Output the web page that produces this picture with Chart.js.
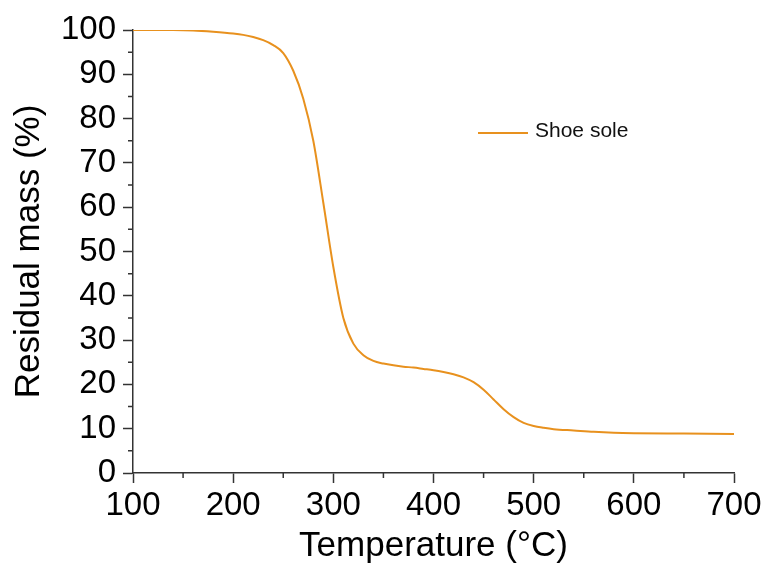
<!DOCTYPE html>
<html>
<head>
<meta charset="utf-8">
<script src="https://cdn.jsdelivr.net/npm/chart.js@4/dist/chart.umd.min.js"></script>
<style>
  html, body { margin: 0; padding: 0; background: #fff; }
  #wrap { width: 767px; height: 567px; }
</style>
</head>
<body>
<div id="wrap"><canvas id="tga-chart" width="767" height="567"></canvas></div>
<script>
// TGA curve
const temperature = [100, 120, 140, 160, 180, 200, 210, 220, 230, 240, 250, 260, 270, 280, 290, 300, 310, 320, 330, 340, 350, 360, 370, 380, 390, 400, 410, 420, 430, 440, 450, 460, 470, 480, 490, 500, 510, 520, 540, 560, 580, 600, 650, 700];
const residualMass = [100, 100, 100, 99.9, 99.6, 99.2, 98.9, 98.4, 97.7, 96.6, 94.8, 90.8, 84.5, 75.0, 61.0, 46.5, 35.0, 29.2, 26.6, 25.3, 24.7, 24.3, 24.0, 23.8, 23.5, 23.2, 22.8, 22.3, 21.6, 20.5, 18.8, 16.6, 14.4, 12.6, 11.3, 10.6, 10.2, 9.9, 9.6, 9.3, 9.1, 9.0, 8.9, 8.8];
const seriesName = 'Shoe sole';
const xTicks = [100, 200, 300, 400, 500, 600, 700];
const yTicks = [0, 10, 20, 30, 40, 50, 60, 70, 80, 90, 100];

const lineColor = '#E8911E';
const axisColor = '#333';
const fontFamily = 'Arial, "Liberation Sans", sans-serif';

// short minor ticks halfway between the major ones
const minorTicks = {
    id: 'minorTicks',
    afterDraw(chart) {
        const ctx = chart.ctx;
        const xs = chart.scales.x;
        const ys = chart.scales.y;
        ctx.save();
        ctx.strokeStyle = axisColor;
        ctx.lineWidth = 1.5;
        ctx.beginPath();
        for (let i = 0; i < xTicks.length - 1; i++) {
            const px = xs.getPixelForValue((xTicks[i] + xTicks[i + 1]) / 2);
            ctx.moveTo(px, ys.bottom);
            ctx.lineTo(px, ys.bottom + 5);
        }
        for (let i = 0; i < yTicks.length - 1; i++) {
            const py = ys.getPixelForValue((yTicks[i] + yTicks[i + 1]) / 2);
            ctx.moveTo(xs.left, py);
            ctx.lineTo(xs.left - 5, py);
        }
        ctx.stroke();
        ctx.restore();
    }
};

// legend sitting inside the plot
const innerLegend = {
    id: 'innerLegend',
    afterDraw(chart) {
        const ctx = chart.ctx;
        const area = chart.chartArea;
        const ds = chart.data.datasets[0];
        const x0 = area.left + 345;
        const y0 = area.top + 103;
        ctx.save();
        ctx.strokeStyle = ds.borderColor;
        ctx.lineWidth = 2;
        ctx.beginPath();
        ctx.moveTo(x0, y0);
        ctx.lineTo(x0 + 50, y0);
        ctx.stroke();
        ctx.fillStyle = '#111';
        ctx.font = '21px ' + fontFamily;
        ctx.textBaseline = 'middle';
        ctx.fillText(ds.label, x0 + 57, y0 - 2);
        ctx.restore();
    }
};

new Chart(document.querySelector('#tga-chart').getContext('2d'), {
    type: 'line',
    data: {
        datasets: [{
            label: seriesName,
            data: temperature.map((t, i) => ({ x: t, y: residualMass[i] })),
            borderColor: lineColor,
            backgroundColor: lineColor,
            borderWidth: 2,
            pointRadius: 0,
            cubicInterpolationMode: 'monotone',
            fill: false
        }]
    },
    options: {
        responsive: false,
        animation: false,
        layout: { padding: { top: 30, right: 33, left: 0, bottom: 0 } },
        plugins: {
            legend: { display: false },
            tooltip: { enabled: false }
        },
        scales: {
            x: {
                type: 'linear',
                min: 100,
                max: 700,
                afterBuildTicks: scale => { scale.ticks = xTicks.map(v => ({ value: v })); },
                afterFit: scale => { scale.height = 94; },
                grid: { drawOnChartArea: false, drawTicks: true, tickLength: 10, tickColor: axisColor, tickWidth: 1.5 },
                border: { display: true, color: axisColor, width: 1.5 },
                ticks: { color: '#000', font: { family: fontFamily, size: 33 }, padding: 3, maxRotation: 0 },
                title: { display: true, text: 'Temperature (°C)', color: '#000', font: { family: fontFamily, size: 35 }, padding: { top: 0, bottom: 0 } }
            },
            y: {
                min: 0,
                max: 100,
                afterBuildTicks: scale => { scale.ticks = yTicks.map(v => ({ value: v })); },
                afterFit: scale => { scale.width = 133; },
                grid: { drawOnChartArea: false, drawTicks: true, tickLength: 10, tickColor: axisColor, tickWidth: 1.5 },
                border: { display: true, color: axisColor, width: 1.5 },
                ticks: { color: '#000', font: { family: fontFamily, size: 33 }, padding: 7 },
                title: { display: true, text: 'Residual mass (%)', color: '#000', font: { family: fontFamily, size: 35 }, padding: { top: 8, bottom: 0 } }
            }
        }
    },
    plugins: [minorTicks, innerLegend]
});
</script>
</body>
</html>
